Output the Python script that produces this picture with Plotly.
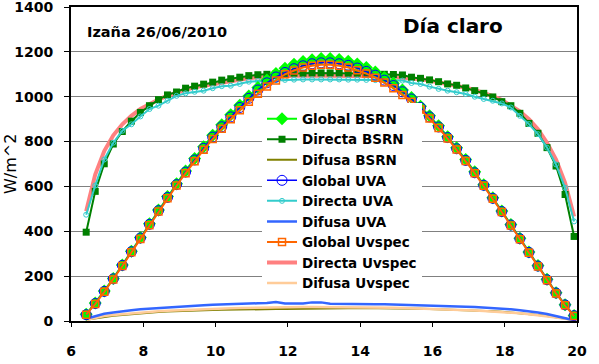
import plotly.graph_objects as go

hours = [6.42, 6.67, 6.92, 7.17, 7.42, 7.67, 7.92, 8.17, 8.42, 8.67, 8.92, 9.17, 9.42, 9.67,
         9.92, 10.17, 10.42, 10.67, 10.92, 11.17, 11.42, 11.67, 11.92, 12.17, 12.42, 12.67,
         12.92, 13.17, 13.42, 13.67, 13.92, 14.17, 14.42, 14.67, 14.92, 15.17, 15.42, 15.67,
         15.92, 16.17, 16.42, 16.67, 16.92, 17.17, 17.42, 17.67, 17.92, 18.17, 18.42, 18.67,
         18.92, 19.17, 19.42, 19.67, 19.92]

global_bsrn = [30, 80, 134, 190, 250, 311, 372, 434, 495, 555, 612, 669, 724, 777, 828, 875,
               920, 962, 1003, 1041, 1075, 1104, 1127, 1145, 1157, 1165, 1170, 1170, 1166, 1158,
               1146, 1130, 1110, 1086, 1060, 1030, 996, 957, 915, 870, 822, 772, 720, 665, 608,
               550, 490, 430, 369, 308, 247, 186, 126, 72, 24]
directa_bsrn = [396, 578, 701, 789, 845, 891, 930, 960, 987, 1008, 1021, 1038, 1047, 1056, 1065,
                1074, 1080, 1087, 1094, 1098, 1100, 1102, 1104, 1105, 1105, 1106, 1106, 1106, 1106,
                1105, 1105, 1104, 1102, 1100, 1099, 1097, 1087, 1082, 1075, 1067, 1057, 1051, 1039,
                1027, 1015, 999, 978, 960, 926, 881, 837, 773, 691, 564, 377]
difusa_bsrn = [5, 12, 18, 23, 27, 31, 34, 37, 40, 42, 44, 46, 47, 48, 49, 50, 50, 51, 52, 52, 53,
               53, 54, 54, 55, 55, 56, 56, 57, 57, 58, 58, 58, 58, 58, 57, 56, 55, 54, 53, 52, 51,
               50, 48, 46, 44, 41, 38, 35, 31, 27, 22, 16, 10, 4]
global_uva = [28, 78, 132, 188, 248, 309, 370, 431, 492, 551, 608, 664, 718, 770, 820, 866, 910,
              952, 993, 1030, 1062, 1088, 1108, 1125, 1138, 1147, 1151, 1151, 1147, 1140, 1128,
              1113, 1096, 1074, 1050, 1022, 990, 952, 910, 865, 818, 768, 716, 661, 605, 547, 488,
              428, 367, 306, 245, 184, 125, 72, 24]
directa_uva = [474, 604, 720, 795, 848, 877, 912, 945, 960, 982, 1004, 1015, 1022, 1027, 1038,
               1047, 1049, 1057, 1067, 1070, 1072, 1074, 1075, 1076, 1077, 1077, 1077, 1077, 1077,
               1076, 1076, 1075, 1074, 1073, 1073, 1072, 1061, 1057, 1045, 1035, 1027, 1020, 1012,
               1000, 990, 982, 970, 952, 915, 878, 833, 773, 698, 594, 444]
difusa_uva = [10, 22, 32, 38, 44, 48, 52, 55, 58, 61, 64, 66, 68, 70, 72, 74, 75, 76, 78, 79, 80,
              85, 78, 77, 78, 83, 83, 77, 76, 76, 75, 75, 75, 75, 74, 74, 73, 72, 71, 70, 68, 66,
              64, 62, 60, 58, 55, 52, 48, 44, 38, 31, 22, 12, 3]
global_uvspec = [28, 76, 130, 185, 245, 306, 366, 427, 488, 547, 604, 659, 712, 763, 812, 857,
                 900, 940, 978, 1013, 1045, 1072, 1100, 1117, 1130, 1138, 1142, 1142, 1138, 1130,
                 1118, 1103, 1085, 1063, 1038, 1008, 978, 943, 903, 860, 814, 765, 713, 659, 603,
                 545, 486, 426, 365, 304, 243, 182, 123, 70, 22]
directa_uvspec = [489, 653, 758, 828, 877, 915, 945, 967, 987, 1005, 1020, 1031, 1042, 1049, 1057,
                  1064, 1070, 1076, 1082, 1086, 1089, 1091, 1093, 1094, 1095, 1095, 1095, 1095,
                  1095, 1094, 1093, 1092, 1091, 1090, 1088, 1086, 1083, 1078, 1072, 1065, 1057,
                  1048, 1040, 1030, 1018, 1003, 985, 962, 935, 900, 855, 795, 720, 616, 466]
difusa_uvspec = [5, 15, 22, 27, 31, 35, 38, 41, 44, 46, 48, 50, 52, 54, 55, 56, 57, 58, 59, 60, 61,
                 61, 62, 62, 62, 62, 62, 62, 62, 62, 61, 61, 60, 60, 59, 58, 57, 56, 55, 54, 53, 51,
                 49, 47, 45, 43, 40, 37, 34, 30, 26, 21, 16, 10, 4]

y_ticks = [0, 200, 400, 600, 800, 1000, 1200, 1400]
x_ticks = [6, 8, 10, 12, 14, 16, 18, 20]

FONT = "DejaVu Sans"

fig = go.Figure()

def add(name, y, rank, color, width, mode="lines", marker=None):
    fig.add_trace(go.Scatter(
        x=hours, y=y, name=name, mode=mode, legendrank=rank,
        line=dict(color=color, width=width),
        marker=marker or {},
    ))

# drawing order (bottom to top)
add("Difusa BSRN", difusa_bsrn, 3, "#808000", 2)
add("Difusa Uvspec", difusa_uvspec, 9, "#FFCC99", 2.5)
add("Difusa UVA", difusa_uva, 6, "#3366FF", 2.5)
add("Directa Uvspec", directa_uvspec, 8, "#FF8080", 4)
add("Directa BSRN", directa_bsrn, 2, "#008000", 2, "lines+markers",
    dict(symbol="square", size=7, color="#008000"))
add("Directa UVA", directa_uva, 5, "#33CCCC", 2, "lines+markers",
    dict(symbol="circle-open", size=5, color="#33CCCC", line=dict(width=1)))
add("Global BSRN", global_bsrn, 1, "#00FF00", 2, "lines+markers",
    dict(symbol="diamond", size=10, color="#00FF00"))
add("Global UVA", global_uva, 4, "#0000FF", 1.5, "lines+markers",
    dict(symbol="circle-open", size=10, color="#0000FF", line=dict(width=1)))
add("Global Uvspec", global_uvspec, 7, "#FF6600", 2, "lines+markers",
    dict(symbol="square-open", size=7, color="#FF6600", line=dict(width=1.5)))

fig.update_layout(
    width=599, height=364,
    margin=dict(l=71, r=22, t=7, b=43, autoexpand=False),
    paper_bgcolor="white", plot_bgcolor="white",
    font=dict(family=FONT, color="black"),
    showlegend=True,
    legend=dict(
        x=0.3775, y=0.693, xanchor="left", yanchor="top",
        bgcolor="white", borderwidth=0,
        font=dict(family=FONT, size=13.5, color="black", weight="bold"),
        traceorder="normal", itemwidth=30,
    ),
    annotations=[
        dict(text="Izaña 26/06/2010", x=0.028, y=0.92, xref="paper", yref="paper",
             xanchor="left", yanchor="middle", showarrow=False,
             font=dict(family=FONT, size=14.5, color="black", weight="bold")),
        dict(text="Día claro", x=0.652, y=0.938, xref="paper", yref="paper",
             xanchor="left", yanchor="middle", showarrow=False,
             font=dict(family=FONT, size=20, color="black", weight="bold")),
        dict(text="W/m^2", x=-0.1206, y=0.5, xref="paper", yref="paper",
             xanchor="center", yanchor="middle", textangle=-90, showarrow=False,
             font=dict(family=FONT, size=16, color="black")),
    ],
)

fig.update_xaxes(
    range=[6, 20], tickvals=x_ticks, ticktext=[str(t) for t in x_ticks],
    showgrid=False, zeroline=False, automargin=False, ticklabeloverflow="allow",
    showline=True, linecolor="black", linewidth=2, mirror=True,
    ticks="outside", ticklen=4, tickcolor="black", ticklabelstandoff=12,
    tickfont=dict(family=FONT, size=14, color="black", weight="bold"),
)
fig.update_yaxes(
    range=[0, 1400], tickvals=y_ticks, ticktext=[str(t) for t in y_ticks],
    showgrid=True, gridcolor="#808080", gridwidth=1, zeroline=False, automargin=False,
    ticklabeloverflow="allow",
    showline=True, linecolor="black", linewidth=2, mirror=True,
    ticks="outside", ticklen=5, tickcolor="black", ticklabelstandoff=8,
    tickfont=dict(family=FONT, size=14, color="black", weight="bold"),
)

# remove the default 8px page margin so the figure sits at the window's top-left corner
fig.write_html("out.html", config={"displayModeBar": False},
               post_script="document.body.style.margin='0px';")
